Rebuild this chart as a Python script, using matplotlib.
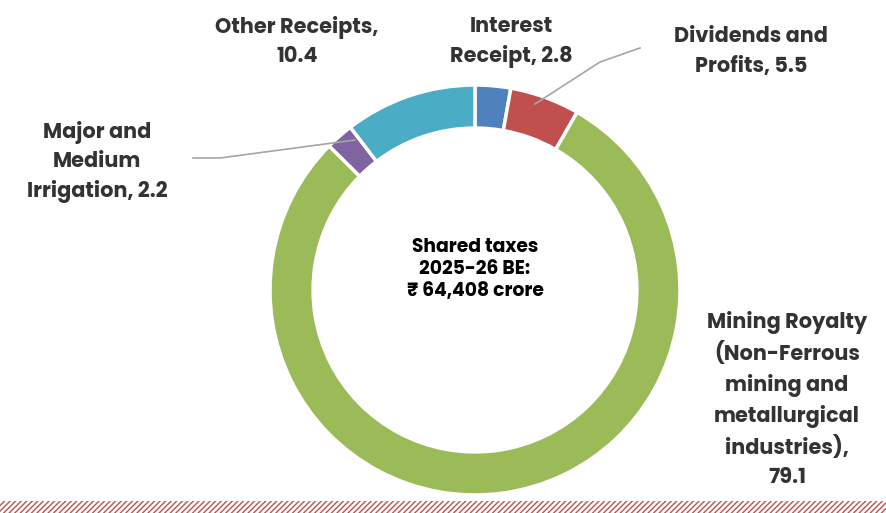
import matplotlib
matplotlib.use("Agg")
import matplotlib.pyplot as plt
from matplotlib.patches import Rectangle

labels = ["Interest Receipt", "Dividends and Profits",
          "Mining Royalty (Non-Ferrous mining and metallurgical industries)",
          "Major and Medium Irrigation", "Other Receipts"]
values = [2.8, 5.5, 79.1, 2.2, 10.4]
colors = ["#4F81BD", "#C0504D", "#9BBB59", "#8064A2", "#4BACC6"]

plt.rcParams['font.family'] = ['Poppins', 'Lato', 'DejaVu Sans']
fig = plt.figure(figsize=(8.87, 5.13), dpi=100)
ax = fig.add_axes([0.3044, 0.0351, 0.4622, 0.7992])
ax.pie(values, colors=colors, startangle=90, counterclock=False,
       wedgeprops=dict(width=0.21, edgecolor="white", linewidth=2.5), radius=1)
ax.set_xlim(-1, 1); ax.set_ylim(-1, 1); ax.set_aspect('equal'); ax.axis('off')

tc = "#333333"
kw = dict(fontsize=15, fontweight='bold', color=tc, ha='center', va='center', linespacing=1.45)
ax.text(0, 0.1, "Shared taxes\n2025-26 BE:\n₹ 64,408 crore", **dict(kw, fontsize=13.5, color='black', linespacing=1.2))

def ft(x, y, s, **k):
    fig.text(x/887, 1 - y/513, s, **dict(kw, **k))

ft(297, 42, "Other Receipts,\n10.4")
ft(511, 42, "Interest\nReceipt, 2.8")
ft(751, 52, "Dividends and\nProfits, 5.5")
ft(97, 162, "Major and\nMedium\nIrrigation, 2.2")
ft(787, 400, "Mining Royalty\n(Non-Ferrous\nmining and\nmetallurgical\nindustries),\n79.1")

gray = "#A6A6A6"
fig.add_artist(plt.Line2D([535/887, 600/887, 640/887], [1-104/513, 1-62/513, 1-48/513], color=gray, lw=1.2))
fig.add_artist(plt.Line2D([193/887, 220/887, 355/887], [1-158/513, 1-158/513, 1-140/513], color=gray, lw=1.2))

fig.add_artist(Rectangle((0, 0), 1, 12/513, transform=fig.transFigure, facecolor='none',
                         edgecolor='#C0504D', hatch='//////', lw=0, zorder=10))
fig.savefig("out.png", dpi=100)
